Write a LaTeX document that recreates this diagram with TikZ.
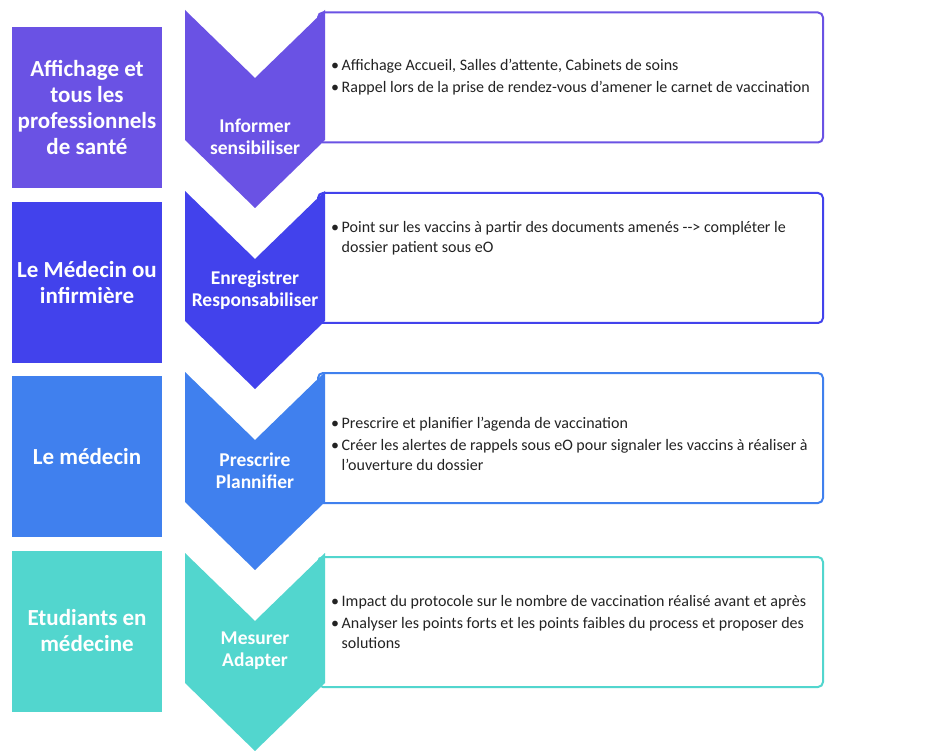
\documentclass[tikz,border=0pt]{standalone}
\usepackage{fontspec}
\setmainfont{Carlito}
\definecolor{cA}{RGB}{106,82,228}
\definecolor{cB}{RGB}{66,66,236}
\definecolor{cC}{RGB}{64,128,238}
\definecolor{cD}{RGB}{82,214,206}
\definecolor{bodytext}{RGB}{35,35,35}
\newcommand{\bul}{\makebox[10.5pt][l]{•}}
\newcommand{\ind}{\hspace*{10.5pt}}
\begin{document}
\begin{tikzpicture}[x=1pt,y=-1pt,
  rolebox/.style={fill=#1, draw=none, minimum width=150pt, minimum height=161pt, inner sep=2pt,
    text=white, align=center, font=\fontsize{23}{26}\selectfont\bfseries},
  infobox/.style={draw=#1, line width=2pt, rounded corners=5pt, fill=white,
    minimum width=505pt, minimum height=130pt},
  steplabel/.style={text=white, align=center, inner sep=0pt, font=\fontsize{19.5}{22}\selectfont\bfseries},
  bodylines/.style={text=bodytext, align=left, inner sep=0pt, font=\fontsize{16}{20.5}\selectfont},
  chev/.style={fill=#1, draw=none}
]
\useasboundingbox[fill=white] (0,0) rectangle (929,751);

% left role boxes
\node[rolebox=cA] (role1) at (87,107.5) {Affichage et\\tous les\\professionnels\\de santé};
\node[rolebox=cB] (role2) at (87,282.5) {Le Médecin ou\\infirmière};
\node[rolebox=cC] (role3) at (87,456.5) {Le médecin};
\node[rolebox=cD] (role4) at (87,631) {Etudiants en\\médecine};

% right info boxes
\node[infobox=cA] (info1) at (570.5,77.5) {};
\node[infobox=cB] (info2) at (570.5,258) {};
\node[infobox=cC] (info3) at (570.5,438) {};
\node[infobox=cD] (info4) at (570.5,622) {};

% chevrons
\foreach \t/\c in {10/cA,191/cB,372/cC,553/cD}{
  \fill[chev=\c] (185,\t) -- (255,\t+68) -- (325,\t) -- (325,\t+130) -- (255,\t+198) -- (185,\t+130) -- cycle;
}

% chevron labels
\node[steplabel] (step1) at (255,137) {Informer\\sensibiliser};
\node[steplabel] (step2) at (255,290) {Enregistrer\\Responsabiliser};
\node[steplabel] (step3) at (255,471) {Prescrire\\Plannifier};
\node[steplabel] (step4) at (255,651) {Mesurer\\Adapter};

% texts
\node[bodylines, anchor=west] (text1) at (331,77) {\bul Affichage Accueil, Salles d'attente, Cabinets de soins\\[1.5pt]
\bul Rappel lors de la prise de rendez-vous d'amener le carnet de vaccination};
\node[bodylines, anchor=west] (text2) at (331,238) {\bul Point sur les vaccins à partir des documents amenés -\kern0pt-\kern0pt> compléter le\\
\ind dossier patient sous eO};
\node[bodylines, anchor=west] (text3) at (331,444) {\bul Prescrire et planifier l'agenda de vaccination\\[1.5pt]
\bul Créer les alertes de rappels sous eO pour signaler les vaccins à réaliser à\\
\ind l'ouverture du dossier};
\node[bodylines, anchor=west] (text4) at (331,622) {\bul Impact du protocole sur le nombre de vaccination réalisé avant et après\\[1.5pt]
\bul Analyser les points forts et les points faibles du process et proposer des\\
\ind solutions};
\end{tikzpicture}
\end{document}
